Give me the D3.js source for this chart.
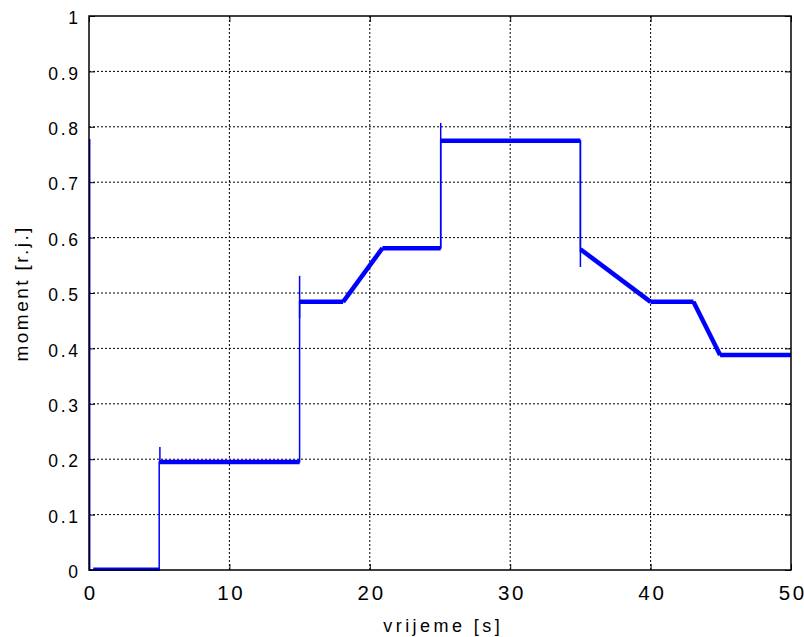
<!DOCTYPE html>
<html lang="en">
<head>
  <meta charset="UTF-8" />
  <title>moment</title>
  <script src="https://d3js.org/d3.v7.min.js"></script>
  <style>
    body { margin: 0; background: white; }
    svg { display: block; font-family: "Liberation Sans", Arial, sans-serif; }
    text { fill: #000; }
    .grid line { stroke: #000; stroke-dasharray: 2,2; stroke-width: 1; }
  </style>
</head>
<body>
<svg width="804" height="637"></svg>
<script>
  // piecewise shape of the response (time [s], moment [r.j.])
  const times  = [0.0, 0.05, 5.0, 5.0, 15.0, 15.0, 18.1, 20.9, 25.05, 25.05, 35.0, 35.0, 40.0, 43.05, 44.95, 50.0];
  const values = [0.0, 0.0, 0.0, 0.195, 0.195, 0.484, 0.484, 0.581, 0.581, 0.775, 0.775, 0.579, 0.484, 0.484, 0.388, 0.388];
  // short transient spikes at the switching instants [time, low, high]
  const spikes = [[0.05, 0.0, 0.778], [5.05, 0.195, 0.222], [15.0, 0.455, 0.531], [25.05, 0.581, 0.807], [35.0, 0.547, 0.775]];
  const xTicks = [0, 10, 20, 30, 40, 50];
  const yTicks = [0, 0.1, 0.2, 0.3, 0.4, 0.5, 0.6, 0.7, 0.8, 0.9, 1];

  const svg = d3.select("svg");
  const margin = { top: 16, right: 13, bottom: 67, left: 89 };
  const width = 804 - margin.left - margin.right;
  const height = 637 - margin.top - margin.bottom;

  const g = svg.append("g").attr("transform", `translate(${margin.left},${margin.top})`);

  const x = d3.scaleLinear().domain([0, 50]).range([0, width]);
  const y = d3.scaleLinear().domain([0, 1]).range([height, 0]);

  // the original text is spaced wider than the font, spread it
  function widen(sel, s) {
    sel.each(function () {
      const n = this.getComputedTextLength();
      d3.select(this).attr("textLength", n * s).attr("lengthAdjust", "spacing");
    });
  }

  // grid
  g.append("g").attr("class", "grid")
    .selectAll("line").data(xTicks.slice(1, -1)).join("line")
    .attr("x1", d => x(d)).attr("x2", d => x(d)).attr("y1", 0).attr("y2", height);
  g.append("g").attr("class", "grid")
    .selectAll("line").data(yTicks.slice(1, -1)).join("line")
    .attr("y1", d => y(d)).attr("y2", d => y(d)).attr("x1", 0).attr("x2", width);

  // axes
  const fmt = d => d === 0 || d === 1 ? String(d) : d3.format(".1f")(d);
  const xAxis = g.append("g").attr("transform", `translate(0,${height})`)
    .call(d3.axisBottom(x).tickValues(xTicks).tickSize(-6));
  xAxis.selectAll("text").attr("y", 30).attr("dy", 0)
    .attr("font-size", 20.5).attr("font-family", null).call(widen, 1.12);
  const yAxis = g.append("g")
    .call(d3.axisLeft(y).tickValues(yTicks).tickFormat(fmt).tickSize(-6).tickPadding(11));
  yAxis.selectAll("text").attr("dy", "0.44em")
    .attr("font-size", 17.5).attr("font-family", null).call(widen, 1.22);
  g.append("g").attr("transform", `translate(${width},0)`)
    .call(d3.axisRight(y).tickValues(yTicks).tickSize(-6).tickFormat(""));
  g.append("g")
    .call(d3.axisTop(x).tickValues(xTicks).tickSize(-6).tickFormat(""));
  g.selectAll(".domain").remove();
  g.selectAll(".tick line").attr("stroke", "#000").attr("stroke-width", 1);

  // data
  const pts = times.map((t, i) => [t, values[i]]);
  const line = d3.line().x(d => x(d[0])).y(d => y(d[1]));
  g.append("path").datum(pts)
    .attr("d", line).attr("fill", "none")
    .attr("stroke", "#0000ff").attr("stroke-width", 1.5);
  // thick noisy band on plateaus and ramps
  const band = pts.filter((d, i) => i >= 3);
  const segs = [];
  for (let i = 0; i < band.length - 1; i++) {
    if (band[i][0] !== band[i + 1][0]) segs.push([band[i], band[i + 1]]);
  }
  g.append("g").selectAll("path").data(segs).join("path")
    .attr("d", line).attr("fill", "none")
    .attr("stroke", "#0000ff").attr("stroke-width", 4.5).attr("stroke-linecap", "butt");
  g.append("path").datum([[0.3, 0.002], [5.0, 0.002]])
    .attr("d", line).attr("fill", "none")
    .attr("stroke", "#0000ff").attr("stroke-width", 3);
  g.append("g").selectAll("line").data(spikes).join("line")
    .attr("x1", d => x(d[0])).attr("x2", d => x(d[0]))
    .attr("y1", d => y(d[1])).attr("y2", d => y(d[2]))
    .attr("stroke", "#0000ff").attr("stroke-width", 1.5);

  // frame
  g.append("rect").attr("width", width).attr("height", height)
    .attr("fill", "none").attr("stroke", "#000").attr("stroke-width", 1.5);

  // labels
  svg.append("text").attr("x", 441.5).attr("y", 632)
    .attr("text-anchor", "middle").attr("font-size", 18)
    .text("vrijeme [s]").call(widen, 1.42);
  svg.append("text").attr("transform", "translate(28,294.5) rotate(-90)")
    .attr("text-anchor", "middle").attr("font-size", 19)
    .text("moment [r.j.]").call(widen, 1.28);
</script>
</body>
</html>
